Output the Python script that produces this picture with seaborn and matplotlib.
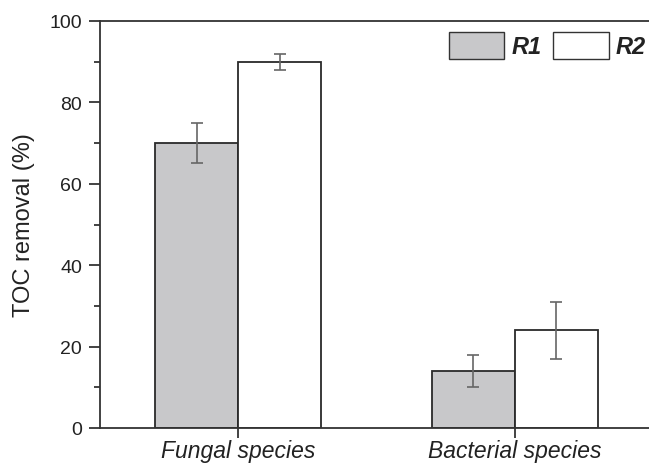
import matplotlib
matplotlib.use("Agg")
import matplotlib.pyplot as plt
import seaborn as sns
import pandas as pd
from matplotlib.ticker import MultipleLocator
from matplotlib.patches import Patch

categories = ["Fungal species", "Bacterial species"]
series = ["R1", "R2"]
r1_values = [70, 14]
r2_values = [90, 24]
r1_err = [5, 4]
r2_err = [2, 7]

df = pd.DataFrame({
    "category": categories * 2,
    "series": [series[0]] * 2 + [series[1]] * 2,
    "value": r1_values + r2_values,
    "err": r1_err + r2_err,
})

sns.set_theme(style="ticks")
plt.rcParams["font.family"] = ["Liberation Sans", "DejaVu Sans"]

fig = plt.figure(figsize=(6.49, 4.64), dpi=100)
ax = fig.add_axes([100 / 649, 1 - 429 / 464, 1 - 100 / 649 + 0.002, (429 - 22) / 464])

colors = {"R1": "#c8c8ca", "R2": "#ffffff"}
sns.barplot(data=df, x="category", y="value", hue="series", order=categories,
            hue_order=series, palette=colors, width=0.6, errorbar=None,
            edgecolor="#2a2a2a", linewidth=1.3, ax=ax, legend=False)

# error bars, placed at bar centers from the patches drawn by seaborn
for s_idx, s in enumerate(series):
    sub = df[df["series"] == s].set_index("category").loc[categories]
    cont = ax.containers[s_idx]
    xs = [p.get_x() + p.get_width() / 2 for p in cont.patches]
    ax.errorbar(xs, sub["value"], yerr=sub["err"], fmt="none",
                ecolor="#666666", elinewidth=1.2, capsize=4.5, capthick=1.2, zorder=5)

ax.set_xlim(-0.5, 1.49)
ax.set_ylim(0, 100)
ax.yaxis.set_major_locator(MultipleLocator(20))
ax.yaxis.set_minor_locator(MultipleLocator(10))
ax.set_xlabel("")
ax.set_ylabel("TOC removal (%)", fontsize=17, color="#222222", labelpad=10)
ax.tick_params(axis="y", which="major", length=8, width=1.2, labelsize=14,
               colors="#222222", direction="out", pad=5)
ax.tick_params(axis="y", which="minor", length=4, width=1.2, direction="out", colors="#222222")
ax.tick_params(axis="x", length=7, width=1.2, labelsize=16.5, colors="#222222", pad=1)
for lbl in ax.get_xticklabels():
    lbl.set_style("italic")

for side in ["left", "bottom", "top"]:
    ax.spines[side].set_visible(True)
    ax.spines[side].set_linewidth(1.3)
    ax.spines[side].set_color("#333333")
ax.spines["right"].set_visible(False)

handles = [Patch(facecolor=colors[s], edgecolor="#333333", linewidth=1.0, label=s) for s in series]
leg = ax.legend(handles=handles, ncol=2, loc="upper right", frameon=False,
                bbox_to_anchor=(646 / 649, 1 - 33 / 464), bbox_transform=fig.transFigure,
                borderaxespad=0, borderpad=0,
                handlelength=2.35, handleheight=1.4,
                columnspacing=0.5, handletextpad=0.3,
                prop={"weight": "bold", "style": "italic", "size": 17})
for t in leg.get_texts():
    t.set_color("#222222")

fig.savefig("out.png", dpi=100)
